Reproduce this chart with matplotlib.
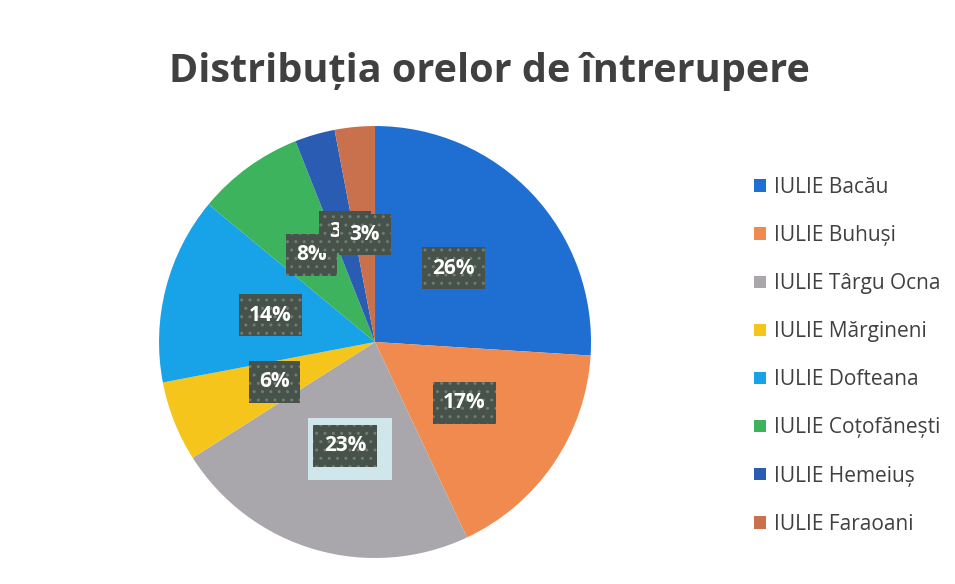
import matplotlib.pyplot as plt

# date
zone = ["IULIE Bacău", "IULIE Buhuși", "IULIE Târgu Ocna", "IULIE Mărgineni",
        "IULIE Dofteana", "IULIE Coțofănești", "IULIE Hemeiuș", "IULIE Faraoani"]
procente = [26, 17, 23, 6, 14, 8, 3, 3]
culori = ["#1f6fd3", "#f08a4e", "#a9a7ab", "#f6c51c",
          "#18a3e8", "#3cb35c", "#2b5cb3", "#c8714c"]

plt.rcParams['font.family'] = ['Open Sans', 'DejaVu Sans']

fig = plt.figure(figsize=(9.55, 5.84), dpi=100)
fig.patch.set_facecolor("white")

fig.text(0.513, 0.877, "Distribuția orelor de întrerupere", ha="center", va="center",
         fontsize=28.5, fontweight="bold", color="#404040")

ax = fig.add_axes([0.1665, 0.0445, 0.4524, 0.7397])
wedges, texte, autotexte = ax.pie(procente, colors=culori, startangle=90, counterclock=False,
                                  autopct="%d%%", pctdistance=0.5,
                                  wedgeprops=dict(linewidth=0))
ax.set_xlim(-1, 1)
ax.set_ylim(-1, 1)
ax.set_aspect("equal")

for t in autotexte:
    t.set_color("white")
    t.set_fontweight("bold")
    t.set_fontsize(15)
    t.set_bbox(dict(boxstyle="square,pad=0.5", facecolor="#47524a",
                    edgecolor="#6f7c72", linewidth=0, hatch=".."))

# eticheta Hemeius putin mai sus, ca in original
xh, yh = autotexte[6].get_position()
autotexte[6].set_position((xh, yh + 0.03))

# umbra deschisa din spatele etichetei 23%
autotexte[2].set_zorder(5)
x23, y23 = autotexte[2].get_position()
ax.text(x23 + 0.025, y23 - 0.015, "23%", color="none", fontsize=15, fontweight="bold",
        ha="center", va="center", zorder=4,
        bbox=dict(boxstyle="square,pad=1.0", facecolor="#cfe6ea", edgecolor="none"))

fig.legend(wedges, zone, loc="upper left", bbox_to_anchor=(0.77, 0.729),
           frameon=False, fontsize=15, handlelength=0.55, handleheight=0.55,
           handletextpad=0.4, labelspacing=1.3, labelcolor="#404040")

fig.savefig("out.png", dpi=100, facecolor="white")
